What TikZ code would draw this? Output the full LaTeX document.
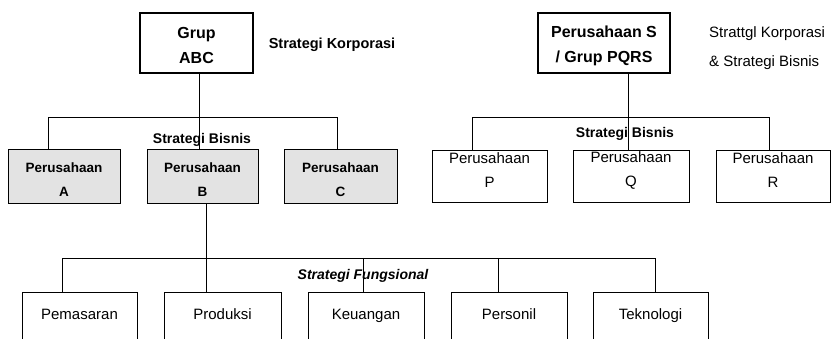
\documentclass[tikz,border=0pt]{standalone}
\usepackage{fontspec}
\setmainfont{Liberation Sans}
\begin{document}
\begin{tikzpicture}[x=1pt,y=-1pt,
  box/.style={draw=black,line width=1pt,rectangle,inner sep=0pt},
  topbox/.style={box,line width=2.8pt,minimum height=60pt},
  midbold/.style={box,fill=black!11,minimum height=54pt},
  midbox/.style={box,minimum height=52pt},
  funbox/.style={box,minimum height=52pt,align=center,font=\fontsize{15}{22}\selectfont,text height=10pt,text depth=8pt},
  toptxt/.style={inner sep=0pt,align=center,font=\fontsize{16}{25}\selectfont\bfseries},
  boldtxt/.style={inner sep=0pt,align=center,font=\fontsize{13.5}{24}\selectfont\bfseries},
  regtxt/.style={inner sep=0pt,align=center,font=\fontsize{15}{24}\selectfont},
  lbl/.style={inner sep=0pt,font=\fontsize{14}{17}\selectfont\bfseries},
  conn/.style={draw=black,line width=0.9pt}]
\useasboundingbox (0,0) rectangle (839,339);
\clip (0,0) rectangle (839,339);
% top level
\node[topbox,minimum width=113pt] (abc) at (196.5,43) {};
\node[toptxt] (abct) at (196.5,45.5) {Grup\\ABC};
\node[topbox,line width=2.4pt,minimum width=132pt] (S) at (604,43) {};
\node[toptxt] (St) at (604,45.5) {Perusahaan S\\/ Grup PQRS};
% second level
\node[midbold,minimum width=112pt] (A) at (64,177) {};
\node[midbold,minimum width=111pt] (B) at (202.5,177) {};
\node[midbold,minimum width=113pt] (C) at (340.5,177) {};
\node[boldtxt] (At) at (64,180) {Perusahaan\\A};
\node[boldtxt] (Bt) at (202.5,180) {Perusahaan\\B};
\node[boldtxt] (Ct) at (340.5,180) {Perusahaan\\C};
\node[midbox,minimum width=115pt] (P) at (489.5,177) {};
\node[midbox,minimum width=116pt] (Q) at (631,177) {};
\node[midbox,minimum width=114pt] (R) at (773,177) {};
\node[regtxt] (Pt) at (489.5,170.5) {Perusahaan\\P};
\node[regtxt] (Qt) at (631,170.5) {Perusahaan\\Q};
\node[regtxt] (Rt) at (773,170.5) {Perusahaan\\R};
% functional level
\node[funbox,minimum width=115pt] (f1) at (79.5,319) {Pemasaran};
\node[funbox,minimum width=117pt] (f2) at (222.5,319) {Produksi};
\node[funbox,minimum width=116pt] (f3) at (366,319) {Keuangan};
\node[funbox,minimum width=116pt] (f4) at (509,319) {Personil};
\node[funbox,minimum width=115pt] (f5) at (650.5,319) {Teknologi};
% junction points
\coordinate (ta) at (48,117);
\coordinate (tm) at (199,117);
\coordinate (tc) at (337,117);
\coordinate (tp) at (472,117);
\coordinate (tq) at (628,117);
\coordinate (tr) at (769,117);
\coordinate (b1) at (62,258);
\coordinate (b2) at (206,258);
\coordinate (b3) at (363,258);
\coordinate (b4) at (498,258);
\coordinate (b5) at (655,258);
% connectors left group
\draw[conn] (tm |- abc.south) -- (tm |- B.north);
\draw[conn] (ta |- A.north) -- (ta) -- (tc) -- (tc |- C.north);
% connectors right group
\draw[conn] (tq |- S.south) -- (tq |- Q.north);
\draw[conn] (tp |- P.north) -- (tp) -- (tr) -- (tr |- R.north);
% connectors functional
\draw[conn] (b2 |- B.south) -- (b2 |- f2.north);
\draw[conn] (b1 |- f1.north) -- (b1) -- (b5) -- (b5 |- f5.north);
\draw[conn] (b3) -- (b3 |- f3.north);
\draw[conn] (b4) -- (b4 |- f4.north);
% labels
\node[lbl,font=\fontsize{14.5}{17}\selectfont\bfseries] (lk) at (332,45) {Strategi Korporasi};
\node[lbl] (lb1) at (202,140) {Strategi Bisnis};
\node[lbl] (lb2) at (625,134) {Strategi Bisnis};
\node[lbl,font=\fontsize{14}{17}\selectfont\bfseries\itshape] (lf) at (363,276) {Strategi Fungsional};
\node[inner sep=0pt,align=left,anchor=west,font=\fontsize{15}{29}\selectfont] (lr) at (709,48) {Strattgl Korporasi\\\& Strategi Bisnis};
\end{tikzpicture}
\end{document}
